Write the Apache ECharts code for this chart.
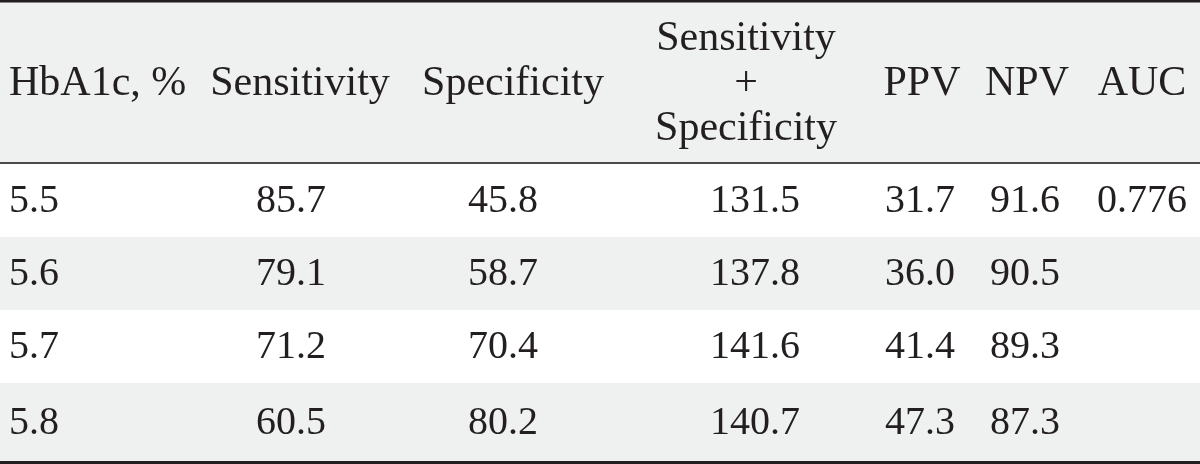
<!DOCTYPE html>
<html>
<head>
<meta charset="utf-8">
<script src="https://cdn.jsdelivr.net/npm/echarts@6/dist/echarts.min.js"></script>
<style>
html,body{margin:0;padding:0;background:#fff;}
#chart{width:1200px;height:464px;}
</style>
</head>
<body>
<div id="chart"></div>
<script>
// ---- data ----
var headers = ['HbA1c, %', 'Sensitivity', 'Specificity', 'Sensitivity\n+\nSpecificity', 'PPV', 'NPV', 'AUC'];
var hba1c = ['5.5', '5.6', '5.7', '5.8'];
var sensitivity = ['85.7', '79.1', '71.2', '60.5'];
var specificity = ['45.8', '58.7', '70.4', '80.2'];
var sensSpec = ['131.5', '137.8', '141.6', '140.7'];
var ppv = ['31.7', '36.0', '41.4', '47.3'];
var npv = ['91.6', '90.5', '89.3', '87.3'];
var auc = ['0.776', '', '', ''];

// ---- layout (not data) ----
var W = 1200, H = 464;
var headerTop = 2, headerBottom = 163;
var rowEdges = [163, 237, 310, 383, 461];
var headCenters = [9, 300, 513, 746, 922, 1027, 1142];
var bodyCenters = [9, 291, 503, 755, 920, 1025, 1142];
var HEAD_FONT = '42px "Liberation Serif", "DejaVu Serif", serif';
var BODY_FONT = '40px "Liberation Serif", "DejaVu Serif", serif';
var INK = '#231f20';
var SHADE = '#eff1f1';

var columns = [hba1c, sensitivity, specificity, sensSpec, ppv, npv, auc];

// background bands: header + alternating rows
var bands = [[headerTop, headerBottom, SHADE]];
for (var r = 0; r < hba1c.length; r++) {
  bands.push([rowEdges[r], rowEdges[r + 1], r % 2 === 1 ? SHADE : '#ffffff']);
}

// text cells: [x, y, text, align, font]
var cells = [];
headers.forEach(function (h, c) {
  cells.push([headCenters[c], (headerTop + headerBottom) / 2 + 1, h, c === 0 ? 'left' : 'center', HEAD_FONT]);
});
columns.forEach(function (col, c) {
  col.forEach(function (v, r) {
    if (v === '') return;
    cells.push([bodyCenters[c], (rowEdges[r] + rowEdges[r + 1]) / 2 + 1, v, c === 0 ? 'left' : 'center', BODY_FONT]);
  });
});

// rules: [y, thickness, color]
var rules = [[1.2, 2.6, '#231f20'], [163, 2, '#4a4a4a'], [462.5, 3.2, '#231f20']];

var chart = echarts.init(document.getElementById('chart'), null, {renderer: 'canvas'});
chart.setOption({
  animation: false,
  backgroundColor: '#ffffff',
  grid: {left: 0, right: 0, top: 0, bottom: 0},
  xAxis: {type: 'value', min: 0, max: W, show: false},
  yAxis: {type: 'value', min: 0, max: H, inverse: true, show: false},
  series: [
    {
      type: 'custom',
      silent: true,
      data: bands,
      encode: {x: -1, y: [0, 1]},
      renderItem: function (params, api) {
        var p0 = api.coord([0, api.value(0)]);
        var p1 = api.coord([W, api.value(1)]);
        return {type: 'rect', shape: {x: p0[0], y: p0[1], width: p1[0] - p0[0], height: p1[1] - p0[1]},
          style: {fill: bands[params.dataIndex][2]}};
      }
    },
    {
      type: 'custom',
      silent: true,
      data: rules,
      encode: {x: -1, y: 0},
      renderItem: function (params, api) {
        var d = rules[params.dataIndex];
        var p0 = api.coord([0, d[0]]);
        var p1 = api.coord([W, d[0]]);
        return {type: 'line', shape: {x1: p0[0], y1: p0[1], x2: p1[0], y2: p1[1]},
          style: {stroke: d[2], lineWidth: d[1]}};
      }
    },
    {
      type: 'custom',
      silent: true,
      data: cells,
      encode: {x: 0, y: 1},
      renderItem: function (params, api) {
        var d = cells[params.dataIndex];
        var p = api.coord([d[0], d[1]]);
        return {type: 'text', x: p[0], y: p[1],
          style: {text: d[2], font: d[4], fill: INK, align: d[3], verticalAlign: 'middle', lineHeight: 45}};
      }
    }
  ]
});
</script>
</body>
</html>
